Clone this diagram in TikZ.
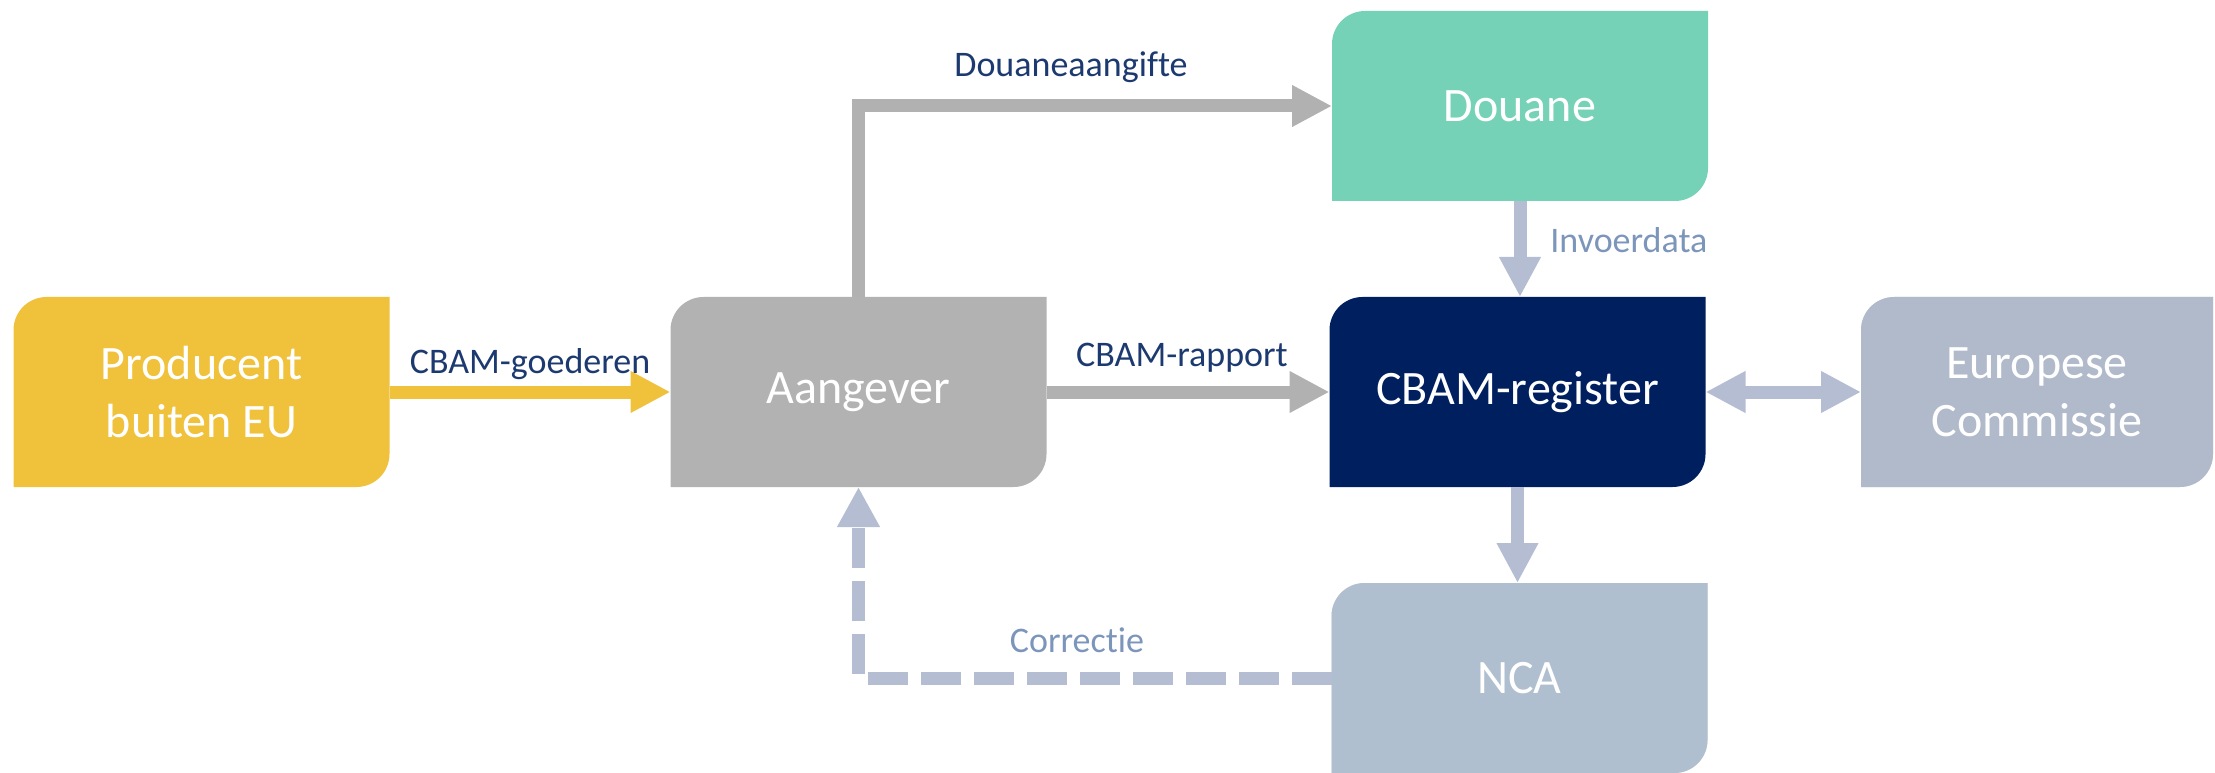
\documentclass[tikz,border=0pt]{standalone}
\usepackage{fontspec}
\setmainfont{Carlito}[Ligatures={NoCommon,NoDiscretionary,NoRare}]
\usetikzlibrary{arrows.meta,backgrounds}
\definecolor{cProd}{RGB}{240,193,58}
\definecolor{cAang}{RGB}{178,178,178}
\definecolor{cDou}{RGB}{118,210,183}
\definecolor{cReg}{RGB}{0,31,95}
\definecolor{cEC}{RGB}{176,186,203}
\definecolor{cNCA}{RGB}{176,191,208}
\definecolor{cGray}{RGB}{177,177,177}
\definecolor{cBlue}{RGB}{180,189,210}
\definecolor{cLbl}{RGB}{28,58,112}
\definecolor{cLblL}{RGB}{124,149,186}
\newcommand{\rr}{16.5pt}
\newcommand{\boxfill}[2]{\fill[#2] (#1.south west) -- ([yshift=-\rr]#1.north west) arc[start angle=180,end angle=90,radius=\rr] -- (#1.north east) -- ([yshift=\rr]#1.south east) arc[start angle=0,end angle=-90,radius=\rr] -- cycle;}
\newcommand{\boxshadow}[1]{%
  \foreach \s in {1,2,3,4}{%
    \begin{scope}[shift={(\s*1.2pt,-\s*1.2pt)}]
      \boxfill{#1}{black!60, opacity=0.05}
    \end{scope}}}
\begin{document}
\begin{tikzpicture}[x=0.5pt,y=0.5pt,
  box/.style={rectangle, inner sep=0pt, outer sep=0pt, minimum width=188pt, minimum height=95pt, text=white, align=center, font=\fontsize{24}{29}\selectfont},
  lbl/.style={font=\fontsize{18}{22}\selectfont, text=cLbl, inner sep=0pt},
  lbll/.style={font=\fontsize{18}{22}\selectfont, text=cLblL, inner sep=0pt},
  garrow/.style={draw=cGray, line width=6.5pt, -{Triangle[length=20pt,width=19.5pt]}},
  barrow/.style={draw=cBlue, line width=6.5pt, -{Triangle[length=20pt,width=19.5pt]}},
  dbarrow/.style={draw=cBlue, line width=6.5pt, {Triangle[length=20pt,width=19.5pt]}-{Triangle[length=20pt,width=19.5pt]}},
  dasharrow/.style={draw=cBlue, line width=6.5pt, dash pattern=on 20pt off 6.5pt, -{Triangle[length=20pt,width=20pt]}}
]
\useasboundingbox (0,0) rectangle (2215,772);
\node[box] (prod) at (201.5,380) {Producent\\buiten EU};
\node[box] (aang) at (858.5,380) {Aangever};
\node[box] (dou) at (1520,666) {Douane};
\node[box] (reg) at (1517.5,380) {CBAM-register};
\node[box, minimum width=176pt] (ec) at (2037,380) {Europese\\Commissie};
\node[box] (nca) at (1519.5,94) {NCA};
\begin{scope}[on background layer]
\boxshadow{ec}
\boxshadow{nca}
\boxfill{prod}{cProd}
\boxfill{aang}{cAang}
\boxfill{dou}{cDou}
\boxfill{reg}{cReg}
\boxfill{ec}{cEC}
\boxfill{nca}{cNCA}
\end{scope}
\draw[draw=cProd, line width=6.5pt, -{Triangle[length=20pt,width=19.5pt]}] (prod.east) -- (aang.west);
\draw[garrow] (aang.east) -- (reg.west);
\draw[garrow] (aang.north) |- (dou.west);
\draw[barrow] (dou.south) -- (dou.south |- reg.north);
\draw[dbarrow] (reg.east) -- (ec.west);
\draw[barrow] (reg.south) -- (reg.south |- nca.north);
\draw[dasharrow] (nca.west) -| (aang.south);
\node[lbl, anchor=base] (l1) at (530,399) {CBAM-goederen};
\node[lbl, anchor=base] (l2) at (1182,406) {CBAM-rapport};
\node[lbl, anchor=base] (l3) at (1071,695) {Douaneaangifte};
\node[lbll, anchor=base west] (l4) at (1550,519) {Invoerdata};
\node[lbll, anchor=base] (l5) at (1077,120) {Correctie};
\end{tikzpicture}
\end{document}
